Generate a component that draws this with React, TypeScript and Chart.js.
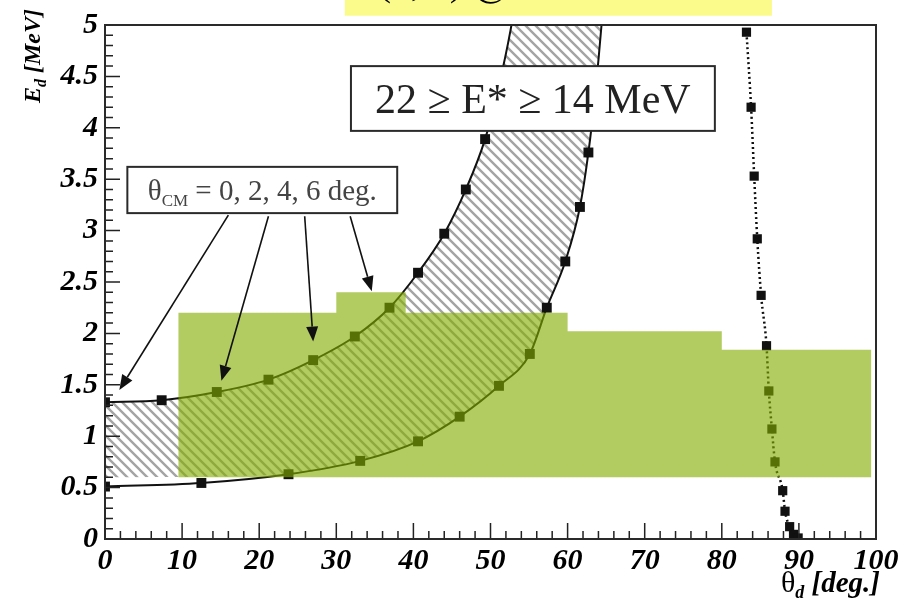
import React, { useEffect, useRef } from 'react';
import { Chart, registerables } from 'chart.js';

Chart.register(...registerables);

// ---------- data ----------
const X_TICKS = [0, 10, 20, 30, 40, 50, 60, 70, 80, 90, 100];
const X_TICK_LABELS = ['0', '10', '20', '30', '40', '50', '60', '70', '80', '90', '100'];
const Y_TICKS = [0, 0.5, 1, 1.5, 2, 2.5, 3, 3.5, 4, 4.5, 5];
const Y_TICK_LABELS = ['0', '0.5', '1', '1.5', '2', '2.5', '3', '3.5', '4', '4.5', '5'];

// upper (left) kinematic curve: markers
const UPPER_X = [0, 7.35, 14.5, 21.2, 27.0, 32.4, 36.9, 40.6, 44.0, 46.8, 49.3];
const UPPER_Y = [1.33, 1.35, 1.43, 1.55, 1.74, 1.97, 2.25, 2.59, 2.97, 3.4, 3.89];
// continuation of the upper curve beyond its last marker
const UPPER_EXT_X = [51.0, 52.6, 53.8];
const UPPER_EXT_Y = [4.38, 4.95, 5.5];

// lower (right) kinematic curve: markers
const LOWER_X = [0, 12.5, 23.8, 33.1, 40.6, 46.0, 51.1, 55.1, 57.3, 59.7, 61.6, 62.7];
const LOWER_Y = [0.51, 0.545, 0.63, 0.76, 0.95, 1.19, 1.49, 1.8, 2.25, 2.7, 3.23, 3.76];
const LOWER_EXT_X = [63.6, 64.4, 65.0];
const LOWER_EXT_Y = [4.35, 5.0, 5.6];

// dotted curve near 85-90 deg
const RIGHT_X = [83.2, 83.8, 84.2, 84.6, 85.1, 85.8, 86.1, 86.5, 86.9, 87.9, 88.2, 88.8, 89.3, 89.9];
const RIGHT_Y = [4.93, 4.2, 3.53, 2.92, 2.37, 1.88, 1.44, 1.07, 0.75, 0.47, 0.27, 0.12, 0.045, 0.01];

// green acceptance region (step function top, flat bottom)
const GREEN_X = [9.5, 30, 39, 60, 80, 99.4];
const GREEN_TOP = [2.2, 2.4, 2.2, 2.02, 1.84, 1.84];
const GREEN_BOTTOM = 0.6;

// hatched band between the curves
const HATCH_FLOOR = 0.6;
const HATCH_TOP_EXT_X = [57, 67];
const HATCH_TOP_EXT_Y = [10, 30];

// annotation arrows (from legend box to the curves), data units
const ARROW_FROM_X = [16.0, 21.2, 25.9, 31.8];
const ARROW_FROM_Y = [3.15, 3.14, 3.14, 3.14];
const ARROW_TO_X = [1.86, 15.1, 27.0, 34.6];
const ARROW_TO_Y = [1.45, 1.54, 1.92, 2.41];

// boxes, data units [x0, x1, yTop, yBottom]
const CM_BOX = [2.9, 37.9, 3.62, 3.17];
const EX_BOX = [31.9, 79.1, 4.6, 3.97];
const YELLOW_BOX = [31.1, 86.5, 5.3, 5.09];

const TITLE_TEXT = "(d,d′) @ 270 MeV";
const CM_TEXT = ' = 0, 2, 4, 6 deg.';
const EX_TEXT = '22 ≥ E* ≥ 14 MeV';

const SERIF = '"Liberation Serif", "Times New Roman", serif';

const pts = (xs: number[], ys: number[]) => xs.map((x, i) => ({ x, y: ys[i] }));

export default function App() {
  const ref = useRef<HTMLCanvasElement>(null);

  useEffect(() => {
    const canvas = ref.current!;
    const T = 10;
    const tile = document.createElement('canvas');
    tile.width = T;
    tile.height = T;
    const tctx = tile.getContext('2d')!;
    tctx.strokeStyle = '#a4a4a4';
    tctx.lineWidth = 2.4;
    tctx.beginPath();
    for (const o of [-T, 0, T]) {
      tctx.moveTo(o - 1, -1);
      tctx.lineTo(o + T + 1, T + 1);
    }
    tctx.stroke();
    const hatch = canvas.getContext('2d')!.createPattern(tile, 'repeat');

    const upperLine = pts(UPPER_X, UPPER_Y).concat(pts(UPPER_EXT_X, UPPER_EXT_Y));
    const lowerLine = pts(LOWER_X, LOWER_Y).concat(pts(LOWER_EXT_X, LOWER_EXT_Y));
    const hatchTop = upperLine.concat(pts(HATCH_TOP_EXT_X, HATCH_TOP_EXT_Y));
    const hatchBottom = [{ x: 0, y: HATCH_FLOOR }].concat(lowerLine.filter((p) => p.y > HATCH_FLOOR));

    const curveCommon = {
      pointRadius: 0,
      borderColor: '#111',
      borderWidth: 2,
      fill: false,
      cubicInterpolationMode: 'monotone' as const,
      capBezierPoints: false,
      order: 1,
    };
    const markerCommon = {
      showLine: false,
      pointStyle: 'rect' as const,
      pointRadius: 7,
      pointBackgroundColor: '#111',
      pointBorderWidth: 0,
      borderColor: 'rgba(0,0,0,0)',
      order: 1,
    };

    const overlay = {
      id: 'overlay',
      afterDatasetsDraw(chart: any) {
        const { ctx, chartArea: a } = chart;
        const xs = chart.scales.x;
        const ys = chart.scales.y;
        const px = (v: number) => xs.getPixelForValue(v);
        const py = (v: number) => ys.getPixelForValue(v);
        ctx.save();

        // inward ticks
        ctx.strokeStyle = '#222';
        ctx.lineWidth = 1.5;
        ctx.beginPath();
        for (let i = 0; i <= 50; i++) {
          const v = i * 2;
          const X = px(v);
          ctx.moveTo(X, a.bottom);
          ctx.lineTo(X, a.bottom - (i % 5 === 0 ? 16 : 8));
        }
        for (let i = 0; i <= 50; i++) {
          const v = i * 0.1;
          const Y = py(v);
          ctx.moveTo(a.left, Y);
          ctx.lineTo(a.left + (i % 5 === 0 ? 15 : 8), Y);
        }
        ctx.stroke();

        // frame
        ctx.strokeStyle = '#2a2a2a';
        ctx.lineWidth = 2;
        ctx.strokeRect(a.left, a.top, a.right - a.left, a.bottom - a.top);

        // arrows
        ctx.strokeStyle = '#111';
        ctx.fillStyle = '#111';
        ctx.lineWidth = 1.6;
        for (let i = 0; i < ARROW_FROM_X.length; i++) {
          const x0 = px(ARROW_FROM_X[i]);
          const y0 = py(ARROW_FROM_Y[i]);
          const x1 = px(ARROW_TO_X[i]);
          const y1 = py(ARROW_TO_Y[i]);
          const ang = Math.atan2(y1 - y0, x1 - x0);
          const L = 15;
          const W = 6;
          const bx = x1 - L * Math.cos(ang);
          const by = y1 - L * Math.sin(ang);
          ctx.beginPath();
          ctx.moveTo(x0, y0);
          ctx.lineTo(bx, by);
          ctx.stroke();
          ctx.beginPath();
          ctx.moveTo(x1, y1);
          ctx.lineTo(bx - W * Math.sin(ang), by + W * Math.cos(ang));
          ctx.lineTo(bx + W * Math.sin(ang), by - W * Math.cos(ang));
          ctx.closePath();
          ctx.fill();
        }

        // boxes
        const box = (b: number[]) => {
          const x0 = px(b[0]);
          const x1 = px(b[1]);
          const y0 = py(b[2]);
          const y1 = py(b[3]);
          ctx.fillStyle = '#fff';
          ctx.fillRect(x0, y0, x1 - x0, y1 - y0);
          ctx.strokeStyle = '#2a2a2a';
          ctx.lineWidth = 2;
          ctx.strokeRect(x0, y0, x1 - x0, y1 - y0);
          return { x0, x1, y0, y1, cx: (x0 + x1) / 2, cy: (y0 + y1) / 2 };
        };

        // theta_CM box
        const cb = box(CM_BOX);
        ctx.fillStyle = '#444';
        ctx.textBaseline = 'alphabetic';
        ctx.textAlign = 'left';
        const fMain = `29px ${SERIF}`;
        const fSub = `17px ${SERIF}`;
        ctx.font = fMain;
        const wT = ctx.measureText('θ').width;
        const wR = ctx.measureText(CM_TEXT).width;
        ctx.font = fSub;
        const wS = ctx.measureText('CM').width;
        const total = wT + wS + wR;
        let tx = cb.cx - total / 2;
        const tb = cb.cy + 10;
        ctx.font = fMain;
        ctx.fillText('θ', tx, tb);
        tx += wT;
        ctx.font = fSub;
        ctx.fillText('CM', tx, tb + 6);
        tx += wS;
        ctx.font = fMain;
        ctx.fillText(CM_TEXT, tx, tb);

        // E* box
        const eb = box(EX_BOX);
        ctx.fillStyle = '#222';
        ctx.font = `42px ${SERIF}`;
        ctx.textAlign = 'center';
        ctx.fillText(EX_TEXT, eb.cx, eb.cy + 14);

        // yellow title box (cut by the top of the picture)
        const yx0 = px(YELLOW_BOX[0]);
        const yx1 = px(YELLOW_BOX[1]);
        const yy0 = py(YELLOW_BOX[2]);
        const yy1 = py(YELLOW_BOX[3]);
        ctx.fillStyle = '#fbfb8c';
        ctx.fillRect(yx0, yy0, yx1 - yx0, yy1 - yy0);
        ctx.save();
        ctx.beginPath();
        ctx.rect(yx0, yy0, yx1 - yx0, yy1 - yy0);
        ctx.clip();
        ctx.fillStyle = '#000';
        ctx.textAlign = 'left';
        ctx.font = `40px ${SERIF}`;
        ctx.fillText(TITLE_TEXT, yx0 + 33, -5);
        ctx.restore();

        // axis titles
        ctx.fillStyle = '#000';
        ctx.textAlign = 'left';
        const fBI = (s: number) => `italic bold ${s}px ${SERIF}`;
        ctx.save();
        ctx.translate(40, 103);
        ctx.rotate(-Math.PI / 2);
        ctx.font = fBI(24);
        ctx.fillText('E', 0, 0);
        const wE = ctx.measureText('E').width;
        ctx.font = fBI(16);
        ctx.fillText('d', wE, 6);
        const wd = ctx.measureText('d').width;
        ctx.font = fBI(24);
        ctx.fillText(' [MeV]', wE + wd, 0);
        ctx.restore();

        // x title, right aligned at the axis end
        ctx.font = fBI(29);
        const wDeg = ctx.measureText(' [deg.]').width;
        ctx.font = `italic bold 18px ${SERIF}`;
        const wdd = ctx.measureText('d').width;
        ctx.font = `30px ${SERIF}`;
        const wTh = ctx.measureText('θ').width;
        const endX = a.right + 4;
        let sx = endX - wDeg - wdd - wTh;
        const base = 592;
        ctx.fillText('θ', sx, base);
        sx += wTh;
        ctx.font = `italic bold 18px ${SERIF}`;
        ctx.fillText('d', sx, base + 6);
        sx += wdd;
        ctx.font = fBI(29);
        ctx.fillText(' [deg.]', sx, base);

        ctx.restore();
      },
    };

    const tickFont = { family: SERIF, size: 30, style: 'italic' as const, weight: 'bold' as const };

    const chart = new Chart(canvas, {
      type: 'line',
      data: {
        datasets: [
          {
            label: 'acceptance',
            data: pts(GREEN_X, GREEN_TOP),
            stepped: 'before',
            fill: { value: GREEN_BOTTOM },
            backgroundColor: 'rgba(130,172,0,0.62)',
            borderColor: 'rgba(0,0,0,0)',
            borderWidth: 0,
            pointRadius: 0,
            order: 0,
          } as any,
          { label: 'upper', data: upperLine, ...curveCommon } as any,
          { label: 'upper markers', data: pts(UPPER_X, UPPER_Y), ...markerCommon } as any,
          { label: 'lower', data: lowerLine, ...curveCommon } as any,
          { label: 'lower markers', data: pts(LOWER_X, LOWER_Y), ...markerCommon } as any,
          {
            label: 'right',
            data: pts(RIGHT_X, RIGHT_Y),
            ...curveCommon,
            borderWidth: 2.5,
            borderDash: [2, 3],
          } as any,
          { label: 'right markers', data: pts(RIGHT_X, RIGHT_Y), ...markerCommon, pointRadius: 6.5 } as any,
          {
            label: 'band',
            data: hatchTop,
            fill: '+1',
            backgroundColor: hatch,
            borderColor: 'rgba(0,0,0,0)',
            borderWidth: 0,
            pointRadius: 0,
            cubicInterpolationMode: 'monotone',
            capBezierPoints: false,
            order: 2,
          } as any,
          {
            label: 'band floor',
            data: hatchBottom,
            fill: false,
            borderColor: 'rgba(0,0,0,0)',
            borderWidth: 0,
            pointRadius: 0,
            cubicInterpolationMode: 'monotone',
            capBezierPoints: false,
            order: 2,
          } as any,
        ],
      },
      options: {
        responsive: false,
        animation: false,
        devicePixelRatio: 1,
        events: [],
        layout: { padding: { top: 22, right: 34, left: 0, bottom: 0 } },
        plugins: { legend: { display: false }, tooltip: { enabled: false } },
        scales: {
          x: {
            type: 'linear',
            min: 0,
            max: 100,
            afterBuildTicks: (s: any) => {
              s.ticks = X_TICKS.map((v) => ({ value: v }));
            },
            afterFit: (s: any) => {
              s.height = 62;
            },
            ticks: {
              callback: (_v: any, i: number) => X_TICK_LABELS[i],
              font: tickFont,
              color: '#000',
              padding: 4,
              maxRotation: 0,
              autoSkip: false,
            },
            grid: { display: false, drawTicks: false },
            border: { display: false },
          },
          y: {
            type: 'linear',
            min: 0,
            max: 5,
            afterBuildTicks: (s: any) => {
              s.ticks = Y_TICKS.map((v) => ({ value: v }));
            },
            afterFit: (s: any) => {
              s.width = 105;
            },
            ticks: {
              callback: (_v: any, i: number) => Y_TICK_LABELS[i],
              font: tickFont,
              color: '#000',
              padding: 7,
              autoSkip: false,
            },
            grid: { display: false, drawTicks: false },
            border: { display: false },
          },
        },
      },
      plugins: [overlay],
    } as any);

    return () => chart.destroy();
  }, []);

  return (
    <div style={{ position: 'fixed', left: 0, top: 0, width: 910, height: 601, background: '#fff' }}>
      <canvas ref={ref} width={910} height={601} style={{ display: 'block', width: 910, height: 601 }} />
    </div>
  );
}
